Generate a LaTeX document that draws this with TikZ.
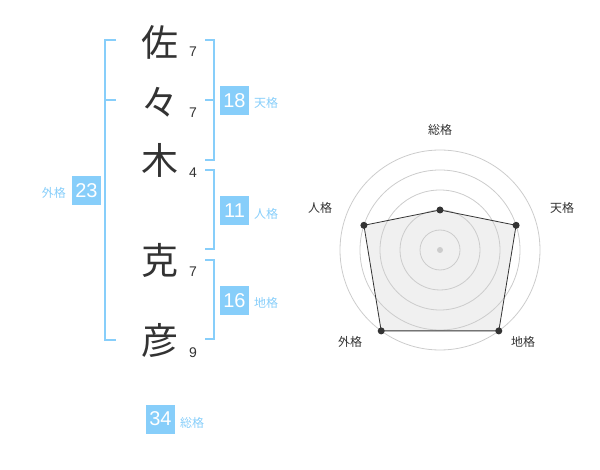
\documentclass[tikz,border=0pt]{standalone}
\usepackage{fontspec}
\setmainfont{Liberation Sans}
\newfontfamily\jp{Noto Sans CJK JP}
\definecolor{sky}{HTML}{87CEFA}
\definecolor{ink}{HTML}{333333}
\definecolor{ring}{HTML}{CCCCCC}
\definecolor{area}{HTML}{F0F0F0}
\begin{document}
\begin{tikzpicture}[x=1pt,y=-1pt,
  kanji/.style={text=ink,inner sep=0pt,font=\jp\fontsize{37}{37}\selectfont},
  stroke/.style={text=ink,inner sep=0pt,font=\fontsize{14}{14}\selectfont},
  valbox/.style={fill=sky,text=white,inner sep=0pt,minimum size=29pt,font=\fontsize{20}{20}\selectfont},
  kaku/.style={text=sky,inner sep=0pt,font=\jp\fontsize{12}{12}\selectfont},
  bracket/.style={draw=sky,line width=2pt},
  axislabel/.style={text=ink,inner sep=0pt,font=\jp\fontsize{12}{12}\selectfont},
  ringline/.style={draw=ring,line width=0.8pt},
  dot/.style={circle,fill=ink,inner sep=0pt,minimum size=7pt}]
\useasboundingbox (0,0) rectangle (600,470);
% characters
\node[kanji] (c1) at (160,42) {佐};
\node[kanji] (c2) at (160,102) {々};
\node[kanji] (c3) at (160,160) {木};
\node[kanji] (c4) at (160,260) {克};
\node[kanji] (c5) at (160,340) {彦};
\node[stroke] (s1) at (193,52) {7};
\node[stroke] (s2) at (193,113) {7};
\node[stroke] (s3) at (193,173) {4};
\node[stroke] (s4) at (193,272) {7};
\node[stroke] (s5) at (193,353) {9};
% brackets
\draw[bracket] (116,40) -- (105,40) -- (105,340) -- (116,340);
\draw[bracket] (105,100) -- (116,100);
\draw[bracket] (205,40) -- (214,40) -- (214,160) -- (205,160);
\draw[bracket] (205,100) -- (214,100);
\draw[bracket] (205,170) -- (214,170) -- (214,249) -- (205,249);
\draw[bracket] (205,260) -- (214,260) -- (214,339) -- (205,339);
% value boxes
\node[valbox] (ten) at (234.5,100.5) {18};
\node[kaku,anchor=west] (tenl) at (254,103) {天格};
\node[valbox] (jin) at (234.5,211) {11};
\node[kaku,anchor=west] (jinl) at (254,214) {人格};
\node[valbox] (chi) at (234.5,300.5) {16};
\node[kaku,anchor=west] (chil) at (254,303) {地格};
\node[valbox] (gai) at (86.5,190.5) {23};
\node[kaku,anchor=east] (gail) at (66,193) {外格};
\node[valbox] (sou) at (160.5,419) {34};
\node[kaku,anchor=west] (soul) at (180,422.5) {総格};
% radar chart
\coordinate (o) at (440,250);
\coordinate (p1) at (440,210);
\coordinate (p2) at (516.1,225.3);
\coordinate (p3) at (498.8,330.9);
\coordinate (p4) at (381.2,330.9);
\coordinate (p5) at (363.9,225.3);
\fill[area] (p1) -- (p2) -- (p3) -- (p4) -- (p5) -- cycle;
\foreach \r in {20,40,60,80,100} \draw[ringline] (o) circle[radius=\r];
\draw[draw=ink,line width=0.8pt] (p1) -- (p2) -- (p3) -- (p4) -- (p5) -- cycle;
\foreach \p in {p1,p2,p3,p4,p5} \node[dot] at (\p) {};
\node[circle,fill=ring,inner sep=0pt,minimum size=6pt] (c) at (o) {};
\node[axislabel] (l1) at (440,130) {総格};
\node[axislabel] (l2) at (562,208) {天格};
\node[axislabel] (l3) at (320,208) {人格};
\node[axislabel] (l4) at (350,342) {外格};
\node[axislabel] (l5) at (523,342) {地格};
\end{tikzpicture}
\end{document}
